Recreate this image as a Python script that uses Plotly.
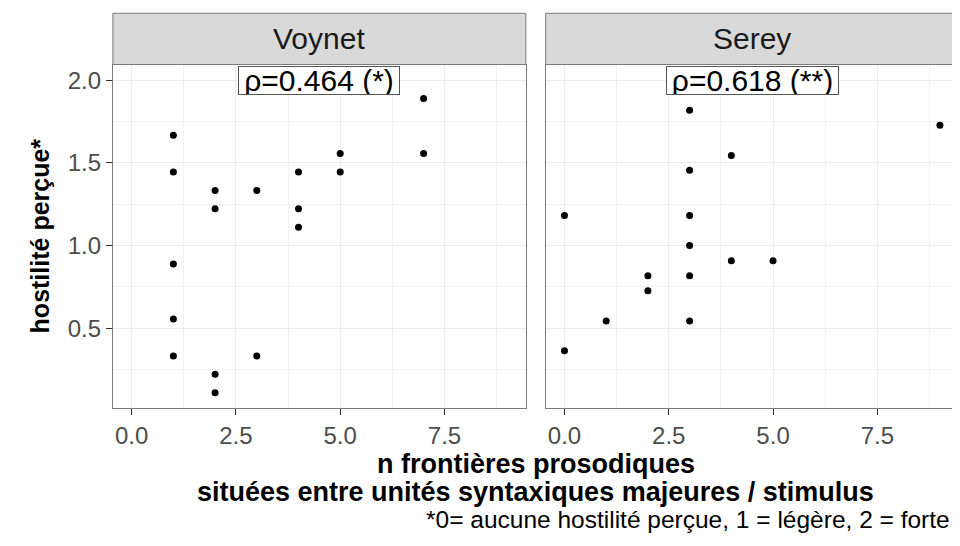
import plotly.graph_objects as go

# facet panels
panels = ["Voynet", "Serey"]
rho_labels = ["ρ=0.464 (*)", "ρ=0.618 (**)"]

# Voynet: n boundaries vs perceived hostility
voynet_x = [1, 1, 1, 1, 1, 2, 2, 2, 2, 3, 3, 4, 4, 4, 5, 5, 7, 7]
voynet_y = [1.667, 1.444, 0.889, 0.556, 0.333,
            1.333, 1.222, 0.222, 0.111,
            1.333, 0.333,
            1.444, 1.222, 1.111,
            1.556, 1.444,
            1.889, 1.556]

# Serey
serey_x = [0, 0, 1, 2, 2, 3, 3, 3, 3, 3, 3, 4, 4, 5, 9]
serey_y = [1.182, 0.364, 0.545, 0.818, 0.727,
           1.818, 1.455, 1.182, 1.0, 0.818, 0.545,
           1.545, 0.909, 0.909, 1.727]

x_ticks = [0, 2.5, 5, 7.5]
x_ticklabels = ["0.0", "2.5", "5.0", "7.5"]
y_ticks = [0.5, 1.0, 1.5, 2.0]
y_ticklabels = ["0.5", "1.0", "1.5", "2.0"]

# the page body has an 8px margin, so the figure is 8px smaller
W, H = 952, 538
FONT = "Liberation Sans, Arial, sans-serif"

# pixel boxes of the panels (figure coords), converted to paper coords
px_x = [(104.9, 517.8), (537.7, 950.7)]
px_y = (56.5, 400.3)
strip_top = 5.3
label_w = [160, 171]

ydom = [1 - px_y[1] / H, 1 - px_y[0] / H]

fig = go.Figure()

data = [(voynet_x, voynet_y), (serey_x, serey_y)]
for i, (xs, ys) in enumerate(data):
    fig.add_trace(go.Scatter(
        x=xs, y=ys, mode="markers",
        marker=dict(color="black", size=7),
        xaxis="x" if i == 0 else "x2",
        yaxis="y" if i == 0 else "y2",
        showlegend=False, hoverinfo="x+y"
    ))

axis_common = dict(
    showline=True, mirror=True, linecolor="#7a7a7a", linewidth=1,
    showgrid=True, gridcolor="#EBEBEB", gridwidth=1,
    zeroline=False, ticks="outside", ticklen=6, tickcolor="#333333",
    tickfont=dict(family=FONT, size=24, color="#4D4D4D"),
    fixedrange=True,
)

for i in range(2):
    sfx = "" if i == 0 else "2"
    fig.layout["xaxis" + sfx] = dict(
        axis_common,
        domain=[px_x[i][0] / W, px_x[i][1] / W],
        range=[-0.45, 9.45],
        tickvals=x_ticks, ticktext=x_ticklabels,
        anchor="y" + sfx,
        minor=dict(showgrid=True, tick0=1.25, dtick=2.5,
                   gridcolor="#F2F2F2", gridwidth=0.6, ticks=""),
    )
    fig.layout["yaxis" + sfx] = dict(
        axis_common,
        domain=ydom,
        range=[0.0167, 2.0944],
        tickvals=y_ticks, ticktext=y_ticklabels,
        anchor="x" + sfx,
        showticklabels=(i == 0),
        ticks="outside" if i == 0 else "",
        minor=dict(showgrid=True, tick0=0.25, dtick=0.5,
                   gridcolor="#F2F2F2", gridwidth=0.6, ticks=""),
    )
    # strip
    fig.add_shape(
        type="rect", xref="paper", yref="paper",
        x0=px_x[i][0] / W, x1=px_x[i][1] / W,
        y0=ydom[1], y1=1 - strip_top / H,
        fillcolor="#D9D9D9", line=dict(color="#7a7a7a", width=1),
    )
    fig.add_annotation(
        xref="paper", yref="paper",
        x=(px_x[i][0] + px_x[i][1]) / 2 / W,
        y=(ydom[1] + 1 - strip_top / H) / 2,
        text=panels[i], showarrow=False,
        font=dict(family=FONT, size=30, color="#1A1A1A"),
        xanchor="center", yanchor="middle",
    )
    # correlation label
    fig.add_annotation(
        xref="x" + sfx, yref="y" + sfx, x=4.5, y=2.0,
        text=rho_labels[i], showarrow=False,
        font=dict(family=FONT, size=30, color="black"),
        bgcolor="white", bordercolor="#555555", borderwidth=1,
        borderpad=0, height=27, width=label_w[i],
    )

# axis titles
fig.add_annotation(
    xref="paper", yref="paper", x=32 / W, y=1 - 228.4 / H,
    text="<b>hostilité perçue*</b>", textangle=-90, showarrow=False,
    font=dict(family=FONT, size=25, color="black"),
    xanchor="center", yanchor="middle",
)
xc = (px_x[0][0] + px_x[1][1]) / 2 / W
fig.add_annotation(
    xref="paper", yref="paper", x=xc, y=1 - 456 / H,
    text="<b>n frontières prosodiques</b>", showarrow=False,
    font=dict(family=FONT, size=27, color="black"),
    xanchor="center", yanchor="middle",
)
fig.add_annotation(
    xref="paper", yref="paper", x=xc, y=1 - 484 / H,
    text="<b>situées entre unités syntaxiques majeures / stimulus</b>",
    showarrow=False,
    font=dict(family=FONT, size=27, color="black"),
    xanchor="center", yanchor="middle",
)
# caption
fig.add_annotation(
    xref="paper", yref="paper", x=944 / W, y=1 - 511 / H,
    text="*0= aucune hostilité perçue, 1 = légère, 2 = forte",
    showarrow=False,
    font=dict(family=FONT, size=24.5, color="black"),
    xanchor="right", yanchor="middle",
)

fig.update_layout(
    width=W, height=H,
    margin=dict(l=0, r=0, t=0, b=0),
    paper_bgcolor="white", plot_bgcolor="white",
    showlegend=False,
)

fig.write_html("out.html")
